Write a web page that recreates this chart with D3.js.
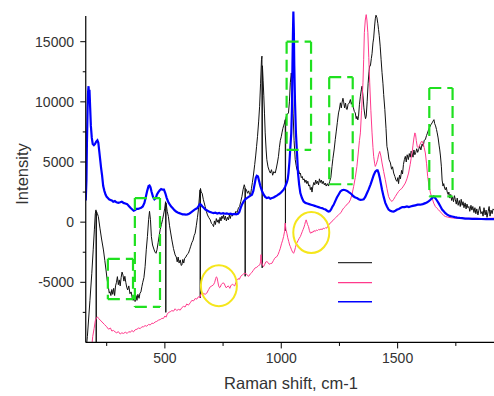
<!DOCTYPE html>
<html><head><meta charset="utf-8">
<script src="https://cdn.jsdelivr.net/npm/d3@7"></script>
<style>html,body{margin:0;padding:0;background:#fff;}svg{display:block;font-family:"Liberation Sans",Arial,sans-serif;}</style>
</head><body>
<svg id="c" width="494" height="396"></svg>
<script>
// ---- data (Raman shift cm-1, intensity) ----
const blackSeries = [[160,-11000],[167,-9500],[178,-6500],[186,-4250],[192,-2300],[197,-640],[201,700],[204,1020],[205,-10800],[206,900],
[210,700],[214,470],[221,-500],[228,-1400],[236,-2310],[242,-3200],[247,-3975],[252,-4800],[257,-5370],[261,-5900],[264,-5780],[268,-6100],
[272,-5600],[276,-6000],[280,-5500],[284,-6100],[288,-5300],[292,-5000],[296,-4530],[300,-5200],[304,-4800],[308,-5300],[312,-4600],[316,-4150],
[320,-4400],[324,-4900],[328,-4500],[332,-5000],[336,-5400],[340,-5640],[345,-5300],[350,-5950],[355,-5800],[360,-6330],[364,-6500],[368,-6200],
[372,-6600],[376,-6100],[380,-6500],[384,-6000],[389,-6330],[393,-5900],[397,-5800],[401,-5370],[405,-5000],[410,-4600],[415,-3700],[420,-2300],
[425,-1200],[430,200],[434,900],[438,200],[442,-1200],[447,-1900],[454,-2310],[458,-2500],[462,-2590],[466,-2300],[471,-1700],[475,-1200],
[480,-600],[485,-200],[490,200],[494,600],[499,1100],[503,1700],[504,-7500],[505,1600],[510,900],[515,470],[520,-300],[525,-900],[530,-1475],
[537,-2200],[544,-2725],[549,-2900],[553,-3300],[557,-2900],[561,-3400],[566,-3140],[570,-3600],[573,-3560],[577,-3100],[581,-3400],[585,-3000],
[590,-2900],[595,-2700],[601,-2590],[606,-2300],[611,-2000],[616,-1700],[621,-1500],[626,-1100],[630,-920],[635,-300],[640,400],[644,1020],
[648,2000],[651,2690],[652,-6300],[653,2800],[656,2500],[660,2400],[665,1900],[669,1600],[673,1300],[678,900],[683,600],[688,400],[695,190],
[700,-100],[705,-200],[709,-370],[713,100],[717,-200],[721,300],[725,0],[729,200],[733,-100],[737,400],[741,100],[745,500],[749,300],[752,610],
[756,200],[760,500],[764,100],[769,400],[773,190],[777,600],[781,300],[786,700],[790,500],[795,750],[800,600],[805,900],[810,800],[816,1170],
[821,1300],[826,1700],[831,2130],[836,2700],[841,3110],[844,2900],[845,-4500],[846,2800],[850,2700],[855,2400],[860,2600],[864,2300],[868,2280],
[872,2800],[876,3300],[881,4000],[886,4800],[890,5500],[894,6300],[898,7130],[903,8400],[907,9630],[911,11500],[915,13500],[917,13800],[918,-3800],
[919,13000],[922,11800],[925,10500],[928,9000],[931,7420],[935,6000],[938,5190],[943,4600],[948,4300],[953,4080],[958,4360],[963,3900],[968,4200],
[974,4080],[979,4500],[984,5000],[988,5470],[992,6200],[996,6800],[1000,7100],[1003,7420],[1007,7800],[1010,8000],[1014,8250],[1017,8520],
[1018,-700],[1019,8600],[1024,8940],[1028,9000],[1031,9080],[1035,10000],[1039,11580],[1043,12400],[1047,11500],[1051,9000],[1055,6800],
[1060,5200],[1064,4700],[1067,4400],[1071,4200],[1075,4300],[1079,4000],[1082,4080],[1086,3700],[1090,3800],[1094,3500],[1098,3600],[1102,3300],
[1106,3500],[1110,3200],[1114,3400],[1118,3000],[1122,3100],[1125,2700],[1129,2900],[1132,2500],[1136,3000],[1140,3300],[1144,3100],[1148,3500],
[1152,3200],[1156,3400],[1160,3100],[1164,3600],[1168,3300],[1172,3500],[1176,3200],[1180,3400],[1185,3100],[1189,3250],[1193,3000],[1198,3200],
[1203,3000],[1208,3390],[1213,3700],[1218,4630],[1222,5300],[1227,6000],[1232,6860],[1236,7500],[1241,8300],[1246,9080],[1250,9400],[1254,9920],
[1258,9500],[1261,9920],[1265,10300],[1268,10000],[1272,9500],[1276,9900],[1280,9400],[1283,9360],[1287,9800],[1292,9900],[1297,10190],[1301,9800],
[1305,10000],[1310,9500],[1314,9200],[1318,9080],[1322,8600],[1325,8800],[1329,8500],[1332,8800],[1336,9800],[1340,10470],[1344,11000],[1347,11300],
[1351,10500],[1355,9500],[1359,8900],[1362,8600],[1365,8800],[1369,10000],[1373,11500],[1377,12500],[1380,13000],[1383,13000],[1387,13600],
[1390,14000],[1394,14900],[1397,15300],[1401,16300],[1404,16900],[1407,17200],[1411,17000],[1415,16500],[1418,16000],[1421,15500],[1425,14630],
[1429,13500],[1433,12420],[1437,11500],[1440,10600],[1445,9360],[1450,7800],[1454,6300],[1458,5900],[1463,5200],[1469,4920],[1474,4400],[1478,4600],
[1483,4080],[1488,3800],[1493,3500],[1497,3390],[1501,3700],[1504,3200],[1508,3900],[1512,3600],[1517,4300],[1521,4000],[1525,4800],[1529,5200],
[1533,5470],[1537,5000],[1541,5600],[1546,5200],[1550,5700],[1554,5400],[1558,5900],[1562,5750],[1566,5400],[1570,6000],[1574,5600],[1578,5800],
[1582,6100],[1586,5800],[1590,6020],[1595,6300],[1600,6000],[1605,6500],[1610,6300],[1614,6800],[1619,6860],[1624,7200],[1628,7400],[1633,7690],
[1638,7900],[1643,8100],[1648,8250],[1652,8400],[1656,8520],[1659,8200],[1663,8000],[1667,7700],[1670,7420],[1674,7000],[1678,6400],[1681,6000],
[1684,5500],[1688,4600],[1691,3500],[1695,3000],[1698,3200],[1702,2800],[1705,2690],[1709,2900],[1713,2500],[1717,2300],[1720,2500],[1724,2000],
[1728,2300],[1732,1800],[1736,2100],[1740,1700],[1744,2200],[1748,1860],[1752,1500],[1756,2000],[1760,1400],[1765,1800],[1769,1300],[1773,1900],
[1777,1400],[1781,1700],[1785,1200],[1790,1600],[1794,1100],[1798,1500],[1802,1200],[1806,1300],[1810,900],[1815,1400],[1819,1000],[1823,1300],
[1828,800],[1832,1200],[1836,700],[1840,1100],[1845,600],[1849,1000],[1853,1300],[1858,700],[1863,880],[1867,500],[1871,1200],[1876,600],
[1880,1000],[1884,400],[1889,900],[1893,1300],[1897,500],[1901,1000],[1906,700],[1910,1100],[1914,1020]];

const pinkSeries = [[186,-10300],[190,-9500],[196,-8830],[201,-8200],[206,-7950],[210,-7870],[215,-8000],[222,-8140],[230,-8300],[240,-8500],
[250,-8700],[258,-8900],[266,-8800],[272,-9050],[279,-9000],[286,-9120],[293,-9200],[300,-9100],[308,-9300],[315,-9200],[322,-9250],[330,-9150],
[338,-9250],[345,-9100],[352,-9150],[358,-9000],[365,-9120],[372,-8950],[380,-8900],[387,-8800],[394,-8850],[401,-8700],[408,-8700],[415,-8600],
[422,-8650],[430,-8500],[437,-8550],[444,-8400],[451,-8420],[458,-8300],[465,-8250],[472,-8150],[480,-8100],[487,-8000],[494,-8000],[500,-7800],
[505,-7900],[510,-7650],[516,-7500],[523,-7450],[530,-7350],[537,-7400],[544,-7200],[551,-7350],[558,-7250],[566,-7310],[573,-7100],[580,-7000],
[587,-7050],[594,-6800],[601,-6900],[609,-6700],[616,-6500],[623,-6550],[630,-6350],[637,-6400],[644,-6200],[651,-6250],[655,-5950],[660,-5950],
[666,-5920],[673,-6000],[680,-5900],[688,-5600],[695,-5370],[702,-5300],[709,-5200],[714,-5000],[718,-4700],[721,-4550],[724,-4600],[727,-4900],
[731,-5300],[735,-5450],[738,-5400],[742,-5200],[746,-5100],[750,-5050],[755,-5100],[759,-5300],[763,-5450],[767,-5400],[771,-5300],[775,-5350],
[779,-5500],[783,-5300],[787,-5200],[791,-5170],[795,-5230],[800,-5300],[805,-5000],[809,-4810],[814,-4700],[820,-4750],[826,-4500],[832,-4400],
[838,-4300],[845,-4250],[850,-4300],[855,-4450],[860,-4500],[867,-4300],[873,-4200],[880,-4000],[888,-3800],[895,-3750],[903,-3600],[908,-3550],
[911,-3300],[913,-2700],[915,-3300],[920,-3600],[924,-3700],[929,-3500],[934,-3300],[938,-3280],[943,-3350],[948,-3500],[953,-3450],[960,-3420],
[966,-3200],[972,-3000],[977,-2900],[981,-2870],[986,-2700],[991,-2450],[996,-2170],[1001,-1800],[1006,-1500],[1010,-1200],[1014,-800],[1017,-80],
[1020,-600],[1024,-920],[1028,-1300],[1032,-1600],[1036,-1900],[1039,-2030],[1044,-2300],[1049,-2500],[1053,-2590],[1057,-2400],[1061,-2100],
[1065,-1800],[1069,-1650],[1073,-1500],[1077,-1350],[1082,-1200],[1086,-1000],[1090,-800],[1094,-600],[1098,-400],[1101,-200],[1104,50],[1107,190],
[1110,0],[1113,-200],[1117,-370],[1121,-700],[1125,-900],[1128,-920],[1132,-800],[1136,-850],[1141,-700],[1146,-780],[1151,-650],[1156,-700],
[1161,-600],[1166,-650],[1171,-550],[1175,-640],[1180,-500],[1186,-550],[1191,-450],[1196,-500],[1201,-300],[1206,-200],[1211,-50],[1216,0],
[1221,150],[1225,190],[1230,300],[1235,400],[1240,500],[1246,610],[1251,700],[1257,800],[1262,1000],[1268,1170],[1275,1300],[1283,1500],[1290,1600],
[1297,1860],[1304,2300],[1311,2970],[1318,3700],[1325,4630],[1332,6000],[1336,6800],[1340,7420],[1345,9300],[1351,11580],[1354,13500],[1357,15750],
[1361,16800],[1365,17250],[1368,16800],[1372,15750],[1376,13700],[1380,11580],[1385,9300],[1390,7420],[1394,6200],[1397,5470],[1401,4900],[1404,4630],
[1408,4800],[1411,5000],[1414,5190],[1418,5600],[1423,5880],[1428,5500],[1433,4920],[1440,4200],[1447,3530],[1454,2800],[1461,2130],[1468,1850],
[1476,1720],[1483,1900],[1490,2130],[1497,2350],[1504,2550],[1511,2700],[1518,2800],[1525,3000],[1533,3250],[1540,3600],[1547,4080],[1554,4800],
[1558,5300],[1562,5750],[1566,6400],[1570,7000],[1574,7420],[1577,7300],[1580,6800],[1584,6300],[1588,6200],[1592,6300],[1597,6500],[1602,6700],
[1606,6700],[1610,6500],[1614,6200],[1619,5750],[1624,4900],[1629,3800],[1635,3000],[1641,2420],[1648,2000],[1655,1580],[1662,1300],[1669,1150],
[1676,1020],[1684,850],[1691,700],[1698,550],[1705,470],[1715,420],[1725,380],[1735,350],[1748,330],[1760,320],[1780,330],[1800,310],[1830,320],
[1860,300],[1890,310],[1914,330]];

const blueSeries = [[160,1800],[163,3500],[165,6500],[168,9500],[170,10800],[172,11300],[174,10500],[176,11000],[179,9500],[182,8000],[186,7000],
[190,6500],[195,6400],[200,6500],[205,6700],[210,6800],[214,6600],[218,5900],[222,5200],[226,4500],[230,3900],[235,3000],[240,2600],[245,2300],
[250,2100],[255,2000],[260,1900],[266,1850],[272,1800],[278,1700],[285,1750],[292,1650],[300,1600],[308,1650],[315,1700],[322,1600],[330,1550],
[338,1500],[345,1350],[352,1200],[360,1050],[366,950],[372,1000],[378,1100],[385,1100],[392,1150],[398,1200],[405,1300],[412,1600],[418,2100],
[424,2600],[430,3000],[434,3050],[438,2900],[443,2500],[449,2100],[455,1900],[461,2000],[466,2300],[472,2500],[478,2650],[484,2750],[490,2700],
[496,2700],[502,2400],[508,2000],[514,1700],[520,1500],[527,1300],[534,1150],[541,1000],[548,880],[555,800],[562,750],[569,700],[576,650],[583,650],
[590,620],[597,650],[604,700],[611,800],[618,900],[625,1000],[632,1100],[638,1150],[644,1300],[650,1500],[655,1450],[661,1300],[667,1200],[674,1050],
[680,1000],[687,900],[694,850],[701,800],[709,750],[717,780],[725,720],[733,760],[741,700],[750,740],[758,700],[766,730],[774,680],[782,700],[790,650],
[798,680],[806,650],[814,700],[820,850],[826,1200],[832,1500],[838,1700],[845,1900],[852,2000],[860,2100],[868,2200],[874,2280],[880,2600],[886,3200],
[891,3700],[895,3850],[900,3800],[905,3400],[910,3000],[917,2600],[924,2300],[931,2100],[938,2000],[946,2050],[953,1950],[960,2000],[967,2050],
[974,2130],[981,2200],[988,2300],[996,2400],[1003,2550],[1010,2700],[1017,2950],[1024,3300],[1028,3600],[1031,4080],[1035,5000],[1039,6200],
[1043,7400],[1046,9500],[1048,12970],[1050,15500],[1052,17500],[1054,16000],[1056,13000],[1059,10000],[1063,7430],[1068,5600],[1072,4080],
[1077,3100],[1082,2420],[1089,2000],[1096,1720],[1104,1600],[1112,1550],[1120,1500],[1128,1450],[1136,1400],[1144,1350],[1152,1300],[1160,1250],
[1168,1200],[1175,1170],[1183,1100],[1190,1050],[1197,950],[1203,880],[1208,900],[1214,1050],[1220,1300],[1225,1440],[1232,1750],[1239,2050],
[1246,2280],[1254,2550],[1261,2650],[1268,2690],[1276,2650],[1283,2600],[1290,2500],[1296,2420],[1303,2300],[1310,2150],[1318,2050],[1325,2000],
[1333,1900],[1340,1850],[1347,1860],[1354,1900],[1361,2100],[1368,2400],[1375,2700],[1383,3100],[1390,3500],[1397,3900],[1404,4200],[1410,4300],
[1414,4300],[1418,4100],[1423,3700],[1428,3200],[1433,2690],[1440,2100],[1447,1600],[1454,1300],[1461,1050],[1468,950],[1476,900],[1483,880],
[1490,950],[1498,1050],[1505,1100],[1512,1170],[1520,1250],[1530,1250],[1540,1300],[1548,1250],[1555,1300],[1565,1350],[1576,1400],[1586,1450],
[1597,1450],[1608,1500],[1619,1580],[1627,1650],[1634,1750],[1641,1860],[1648,2000],[1655,2130],[1662,2000],[1669,1800],[1676,1580],[1684,1300],
[1691,1050],[1698,900],[1705,750],[1713,620],[1720,550],[1727,500],[1734,470],[1745,420],[1756,380],[1767,350],[1777,330],[1790,300],[1805,290],
[1820,280],[1840,270],[1860,260],[1880,250],[1900,250],[1914,250]];

const xMajorTicks = [500, 1000, 1500];
const xMinorTicks = [250, 750, 1250, 1750];
const yMajorTicks = [-5000, 0, 5000, 10000, 15000];
const yMinorTicks = [-7500, -2500, 2500, 7500, 12500];

// annotation boxes in data units [x0, x1, yLow, yHigh]
const greenBoxes = [[255, 363, -6400, -3050], [371, 479, -7050, 2000], [1023, 1128, 6000, 15000], [1206, 1307, 3150, 12050], [1636, 1736, 2150, 11150]];
// yellow circles, centre in data units
const yellowMarks = [[732, -5280], [1129, -860]];

// ---- layout ----
const L = 85.75, R = 494, T = 16, B = 342.45;
const x = d3.scaleLinear().domain([160, 1914]).range([L, R]);
const y = d3.scaleLinear().domain([-10000, 17136]).range([B, T]);

const svg = d3.select("#c");
svg.append("defs").append("clipPath").attr("id", "clip")
  .append("rect").attr("x", L).attr("y", 0).attr("width", R - L + 10).attr("height", B);

const plot = svg.append("g").attr("clip-path", "url(#clip)");

// annotations (green dashed boxes)
const green = "#1fe01f";
greenBoxes.forEach(b => {
  const x0 = x(b[0]), x1 = x(b[1]), yt = y(b[3]), yb = y(b[2]);
  const sides = [[x0, yt, x1, yt], [x1, yt, x1, yb], [x0, yb, x1, yb], [x0, yt, x0, yb]];
  sides.forEach(s => svg.append("line").attr("x1", s[0]).attr("y1", s[1]).attr("x2", s[2]).attr("y2", s[3])
    .attr("stroke", green).attr("stroke-width", 2.2).attr("stroke-dasharray", "12,6"));
});

const line = d3.line().x(d => x(d[0])).y(d => y(d[1]));
plot.append("path").datum(blackSeries).attr("d", line).attr("fill", "none").attr("stroke", "#111").attr("stroke-width", 1);
plot.append("path").datum(pinkSeries).attr("d", line).attr("fill", "none").attr("stroke", "#ff3a8c").attr("stroke-width", 1);
plot.append("path").datum(blueSeries).attr("d", line).attr("fill", "none").attr("stroke", "#0000ff").attr("stroke-width", 2.2);

// yellow ellipses
yellowMarks.forEach(m => svg.append("ellipse").attr("cx", x(m[0])).attr("cy", y(m[1])).attr("rx", 18).attr("ry", 20.5)
  .attr("fill", "none").attr("stroke", "#f5e61c").attr("stroke-width", 2));

// axes
const ax = svg.append("g");
ax.append("line").attr("x1", L).attr("x2", R).attr("y1", B).attr("y2", B).attr("stroke", "#000").attr("stroke-width", 1.2);
ax.append("line").attr("x1", L).attr("x2", L).attr("y1", T).attr("y2", B).attr("stroke", "#000").attr("stroke-width", 1.2);
xMajorTicks.forEach(t => {
  ax.append("line").attr("x1", x(t)).attr("x2", x(t)).attr("y1", B).attr("y2", B + 6).attr("stroke", "#000");
  ax.append("text").attr("x", x(t)).attr("y", B + 21).attr("text-anchor", "middle").attr("font-size", 14).attr("fill", "#333").text(t);
});
xMinorTicks.forEach(t => ax.append("line").attr("x1", x(t)).attr("x2", x(t)).attr("y1", B).attr("y2", B + 3.5).attr("stroke", "#000"));
yMajorTicks.forEach(t => {
  ax.append("line").attr("x1", L - 5.5).attr("x2", L).attr("y1", y(t)).attr("y2", y(t)).attr("stroke", "#000");
  ax.append("text").attr("x", 74).attr("y", y(t) + 5).attr("text-anchor", "end").attr("font-size", 14).attr("fill", "#333").text(t);
});
yMinorTicks.forEach(t => ax.append("line").attr("x1", L - 3).attr("x2", L).attr("y1", y(t)).attr("y2", y(t)).attr("stroke", "#000"));

svg.append("text").attr("transform", "translate(28,174) rotate(-90)").attr("text-anchor", "middle")
  .attr("font-size", 16.5).attr("fill", "#333").text("Intensity");
svg.append("text").attr("x", 291).attr("y", 389).attr("text-anchor", "middle")
  .attr("font-size", 16.5).attr("fill", "#333").text("Raman shift, cm-1");

// legend samples (no labels)
const legend = [["#333", 1.2, 262.7], ["#ff3a8c", 1.2, 282.7], ["#0000ff", 1.5, 301.7]];
legend.forEach(l => svg.append("line").attr("x1", 338).attr("x2", 372).attr("y1", l[2]).attr("y2", l[2])
  .attr("stroke", l[0]).attr("stroke-width", l[1]));
</script>
</body></html>
